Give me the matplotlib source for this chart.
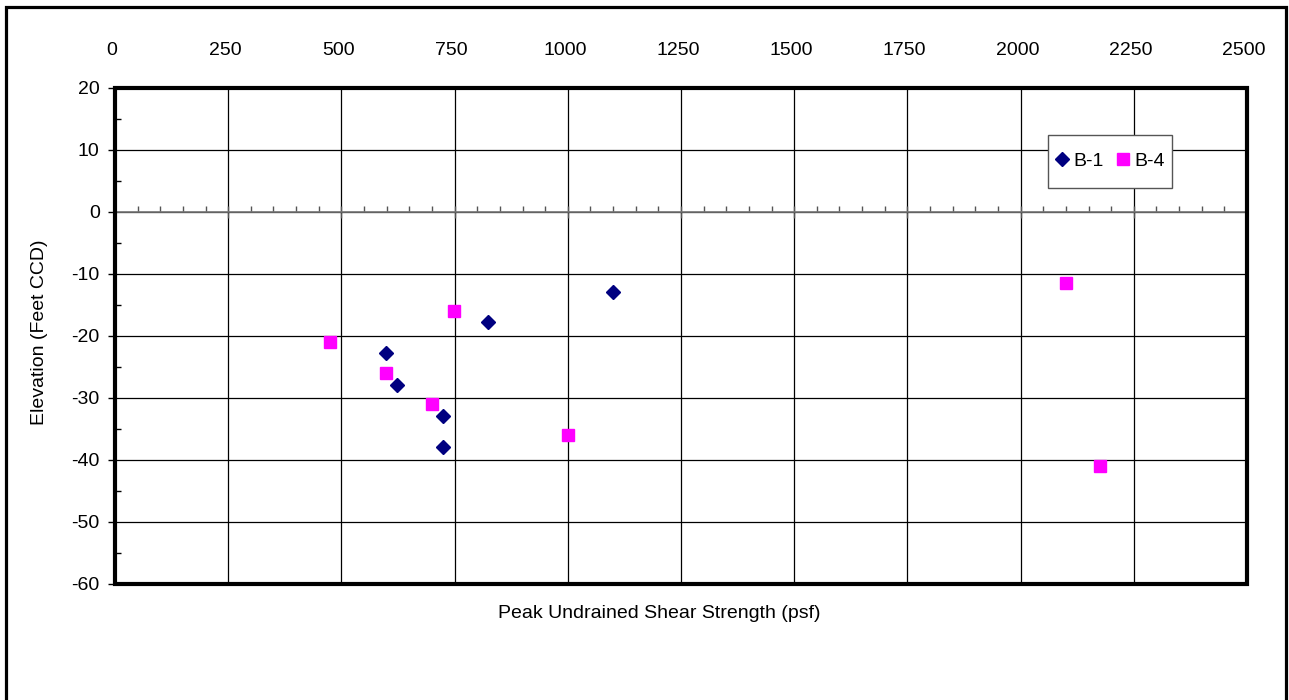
import matplotlib
matplotlib.use("Agg")
import matplotlib.pyplot as plt
from matplotlib.patches import Rectangle
from matplotlib.ticker import MultipleLocator
from matplotlib.transforms import ScaledTranslation

plt.rcParams['font.family'] = ['Liberation Sans', 'DejaVu Sans']
plt.rcParams['axes.unicode_minus'] = False

# Data
b1_strength = [599, 623, 725, 725, 824, 1099]
b1_elev = [-22.8, -27.9, -32.9, -37.9, -17.8, -12.9]
b4_strength = [474, 599, 699, 749, 1000, 2100, 2175]
b4_elev = [-20.9, -25.9, -30.9, -15.9, -36.0, -11.4, -41.0]

FS = 14
W, H = 1289, 700
fig = plt.figure(figsize=(W / 100, H / 100), dpi=100)
ax = fig.add_axes([115 / W, 1 - 584 / H, (1247 - 115) / W, (584 - 88) / H])

ax.set_xlim(0, 2500)
ax.set_ylim(-60, 20)

ax.xaxis.set_major_locator(MultipleLocator(250))
ax.xaxis.set_minor_locator(MultipleLocator(50))
ax.yaxis.set_major_locator(MultipleLocator(10))
ax.yaxis.set_minor_locator(MultipleLocator(5))

ax.grid(True, which='major', color='black', linewidth=0.9)
ax.set_axisbelow(True)

# x axis line at y = 0
ax.spines['bottom'].set_position(('data', 0))
ax.spines['bottom'].set_color('#777777')
ax.spines['bottom'].set_linewidth(1.2)
for s in ['top', 'right', 'left']:
    ax.spines[s].set_visible(False)

ax.tick_params(axis='x', which='major', bottom=True, top=False, labelbottom=False,
               labeltop=True, direction='inout', length=8, width=1, color='#555555',
               labelsize=FS, pad=17)
ax.tick_params(axis='x', which='minor', bottom=True, top=False, direction='in',
               length=4, width=1, color='#555555')
ax.tick_params(axis='y', which='major', left=True, direction='out', length=5,
               width=1, labelsize=FS, pad=6)
ax.tick_params(axis='y', which='minor', left=True, direction='in', length=4, width=1)

shift = ScaledTranslation(-3 / 100, 0, fig.dpi_scale_trans)
for lbl in ax.get_xticklabels():
    lbl.set_transform(lbl.get_transform() + shift)

# Thick plot frame
ax.add_patch(Rectangle((0, 0), 1, 1, transform=ax.transAxes, fill=False,
                       edgecolor='black', linewidth=3, clip_on=False, zorder=5))

ax.plot(b1_strength, b1_elev, linestyle='none', marker='D', markersize=7,
        color='#000080', markeredgecolor='#000080', label='B-1', zorder=4, clip_on=False)
ax.plot(b4_strength, b4_elev, linestyle='none', marker='s', markersize=9,
        color='#FF00FF', markeredgecolor='#FF00FF', label='B-4', zorder=4, clip_on=False)

# Legend frame drawn manually, items placed inside
ax.add_patch(Rectangle((1048 / W, 1 - 188 / H), 124 / W, 53 / H,
                       transform=fig.transFigure, facecolor='white',
                       edgecolor='#555555', linewidth=1.0, zorder=9, clip_on=False))
leg = ax.legend(loc='center left', bbox_to_anchor=(1056 / W, 1 - 161 / H),
                bbox_transform=fig.transFigure, ncol=2,
                fontsize=FS, frameon=False, handlelength=0.6,
                handletextpad=0.27, columnspacing=0.72, borderpad=0,
                borderaxespad=0)
leg.set_zorder(11)

fig.text(40 / W, 1 - 332 / H, 'Elevation (Feet CCD)', rotation=90,
         ha='center', va='center', fontsize=FS)
fig.text(659 / W, 1 - 613 / H, 'Peak Undrained Shear Strength (psf)',
         ha='center', va='center', fontsize=FS)

# Figure border (cut off at bottom)
fig.patches.append(Rectangle((5.5 / W, -0.05), (1285.5 - 5.5) / W, 1.05 - 6.5 / H,
                             transform=fig.transFigure, fill=False,
                             edgecolor='black', linewidth=2.3))

fig.savefig('out.png', dpi=100)
